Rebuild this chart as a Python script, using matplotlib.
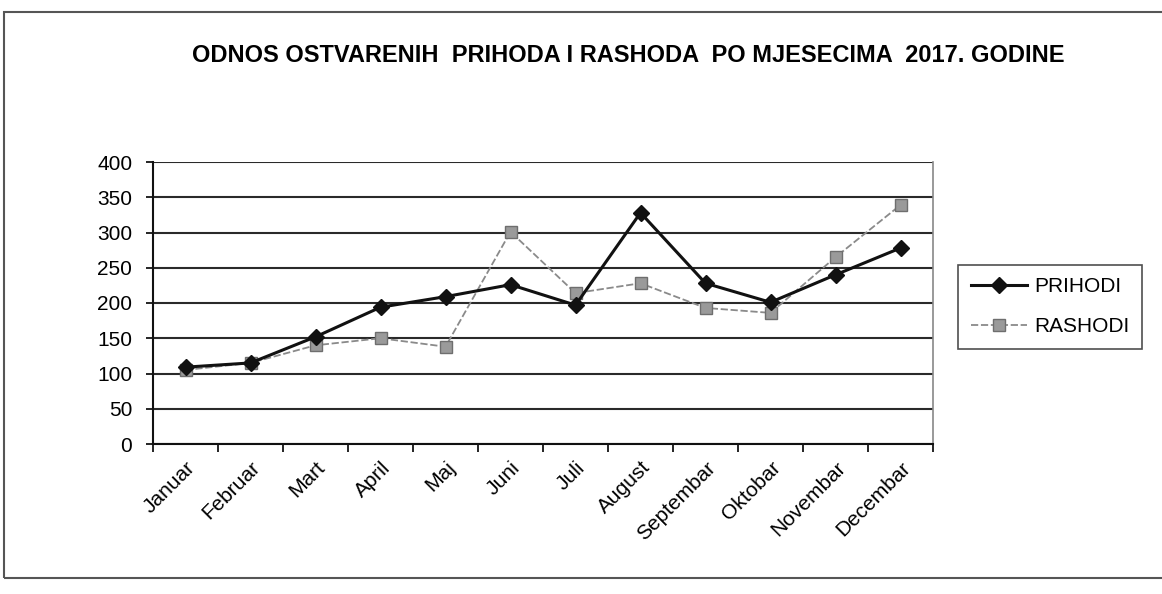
import numpy as np
import matplotlib.pyplot as plt
from matplotlib.patches import Rectangle

months = ['Januar', 'Februar', 'Mart', 'April', 'Maj', 'Juni', 'Juli',
          'August', 'Septembar', 'Oktobar', 'Novembar', 'Decembar']
prihodi = [109, 115, 152, 194, 209, 226, 197, 328, 228, 201, 240, 278]
rashodi = [105, 115, 140, 150, 138, 301, 214, 228, 193, 186, 265, 339]
y_ticks = [0, 50, 100, 150, 200, 250, 300, 350, 400]

plt.rcParams['font.family'] = ['Liberation Sans', 'DejaVu Sans']

W, H = 1162, 594
fig = plt.figure(figsize=(W / 100, H / 100), dpi=100)
ax = fig.add_axes([153 / W, 1 - 444 / H, (933 - 153) / W, (444 - 162) / H])

x = np.arange(len(months))
ax.plot(x, prihodi, color='#111111', lw=2.2, marker='D', ms=8,
        mfc='#111111', mec='#111111', label='PRIHODI', zorder=4)
ax.plot(x, rashodi, color='#8a8a8a', lw=1.3, ls=(0, (4, 1.5)), marker='s', ms=9,
        mfc='#9a9a9a', mec='#6e6e6e', label='RASHODI', zorder=3)

ax.set_xlim(-0.5, len(months) - 0.5)
ax.set_ylim(0, 400)
ax.set_yticks(y_ticks)
ax.yaxis.grid(True, color='#2a2a2a', lw=1.5)
ax.set_axisbelow(True)

ax.set_xticks(x)
ax.set_xticklabels(months, rotation=45, ha='right', va='top',
                   rotation_mode='anchor', fontsize=15)
ax.tick_params(axis='x', which='major', length=0, pad=10)
ax.set_xticks(np.arange(-0.5, len(months)), minor=True)
ax.tick_params(axis='x', which='minor', length=6, width=1.2, direction='out')
ax.tick_params(axis='y', labelsize=15, length=5, width=1.2, pad=10)

for side in ['left', 'bottom']:
    ax.spines[side].set_color('#111111')
    ax.spines[side].set_linewidth(1.5)
ax.spines['top'].set_visible(False)
ax.spines['right'].set_color('#888888')
ax.spines['right'].set_linewidth(1.2)

fig.text(628 / W, 1 - 55 / H,
         'ODNOS OSTVARENIH  PRIHODA I RASHODA  PO MJESECIMA  2017. GODINE',
         ha='center', va='center', fontsize=17, fontweight='bold')

leg = fig.legend(loc='upper left', bbox_to_anchor=(958 / W, 1 - 265 / H),
                 fontsize=15, handlelength=2.7, handletextpad=0.35,
                 borderpad=0.6, borderaxespad=0, labelspacing=1.0,
                 fancybox=False, frameon=True)
leg.get_frame().set_edgecolor('#222222')
leg.get_frame().set_linewidth(1.2)

fig.patches.append(Rectangle((4 / W, 1 - 578 / H), (W + 10) / W, (578 - 12) / H,
                             transform=fig.transFigure, fill=False,
                             edgecolor='#555555', lw=1.5))

fig.savefig('out.png', dpi=100)
